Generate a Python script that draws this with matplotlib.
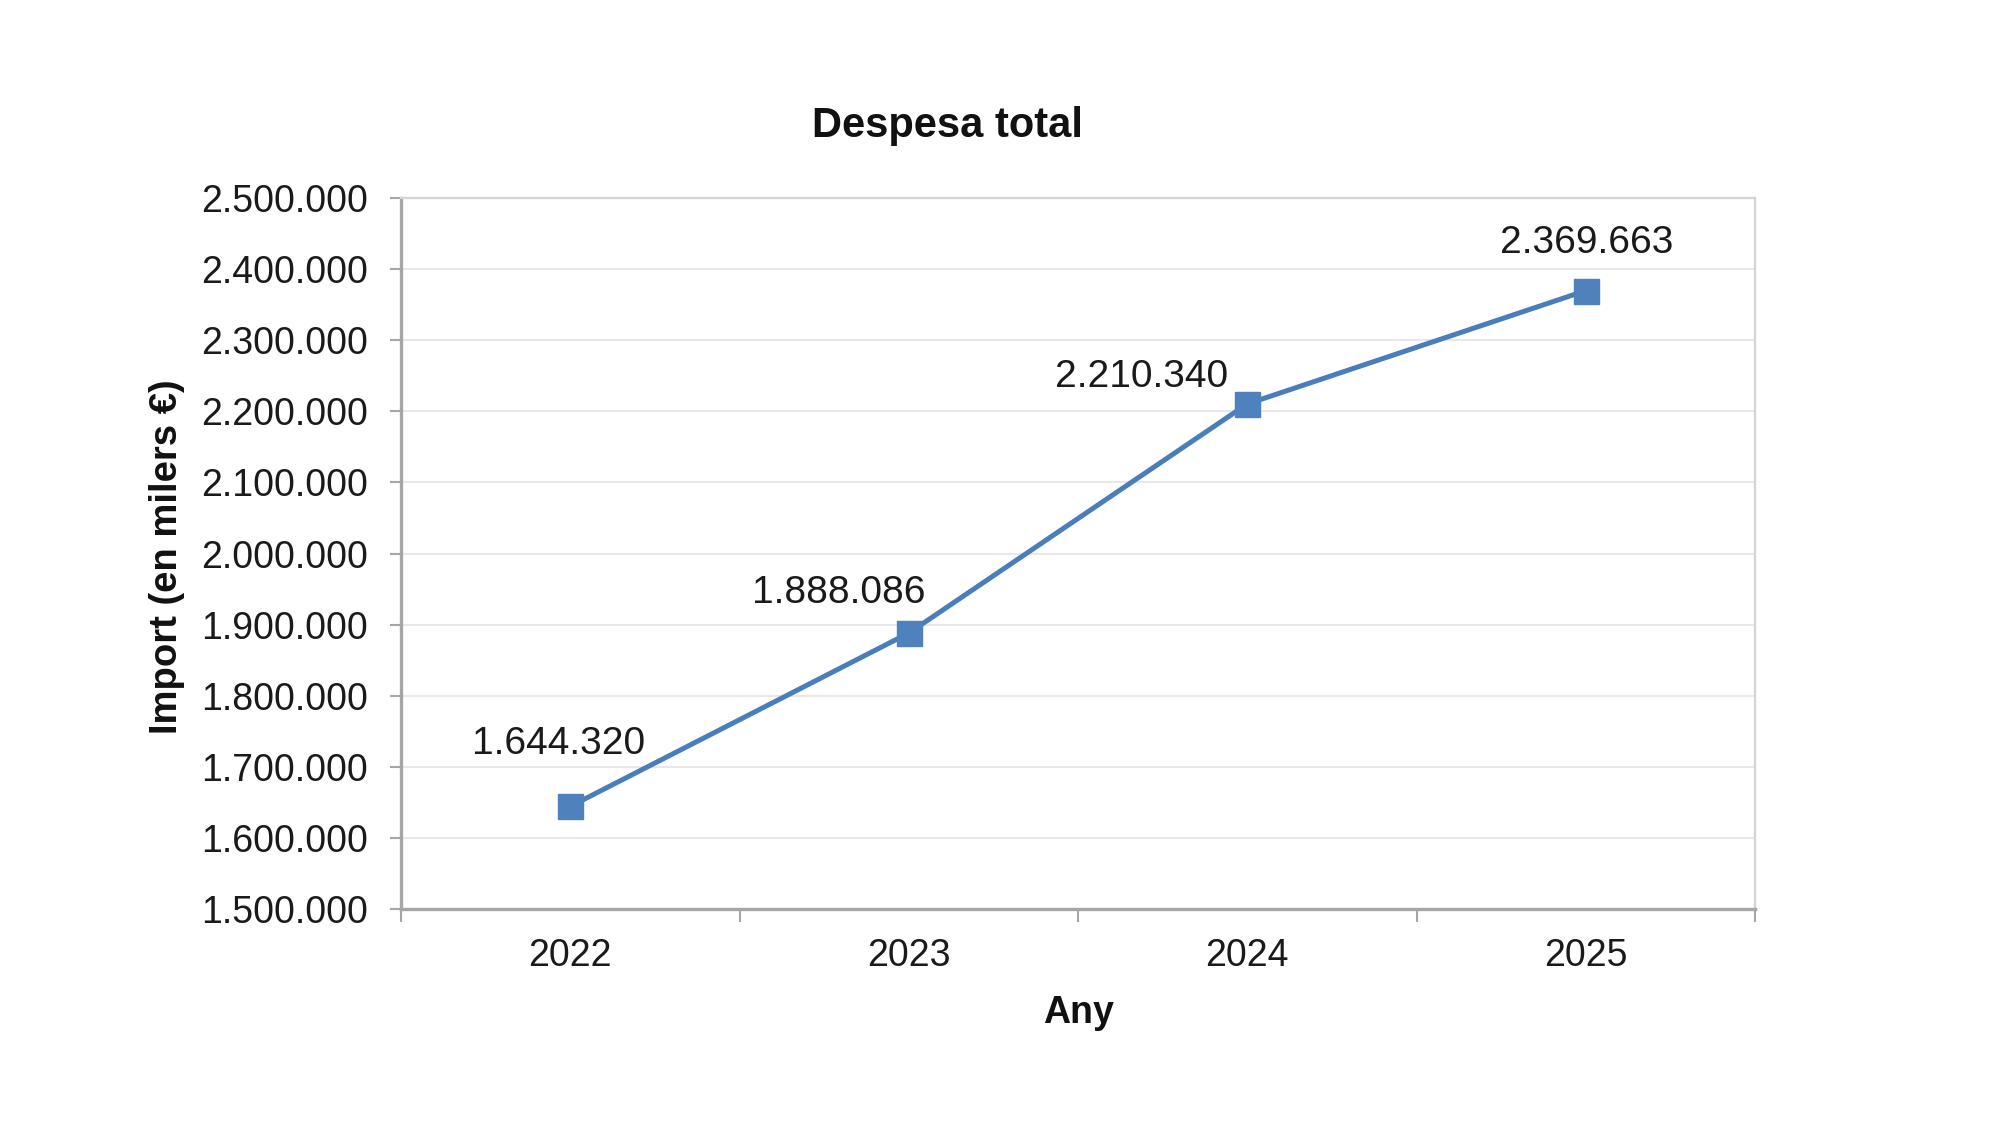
import matplotlib
matplotlib.use("Agg")
import matplotlib.pyplot as plt
from matplotlib.ticker import FuncFormatter, MultipleLocator, FixedLocator

plt.rcParams['font.family'] = ['Liberation Sans', 'DejaVu Sans']

years = ["2022", "2023", "2024", "2025"]
values = [1644320, 1888086, 2210340, 2369663]
title = "Despesa total"
xlabel = "Any"
ylabel = "Import (en milers €)"

# label offsets in pixels (dx, dy) relative to marker
label_offsets = [(-12, 66), (-70, 44), (-106, 31), (1, 52)]

def fmt(v):
    return f"{v:,.0f}".replace(",", ".")

W, H = 2000, 1126
fig = plt.figure(figsize=(W / 100, H / 100), dpi=100)
ax = fig.add_axes([401 / W, 1 - 909 / H, (1755 - 401) / W, (909 - 198) / H])

line_color = "#4A7EBB"
marker_color = "#4F81BD"
x = list(range(len(years)))
ax.plot(x, values, color=line_color, linewidth=3.6, marker="s", markersize=18,
        markerfacecolor=marker_color, markeredgecolor=marker_color, zorder=3, clip_on=False)

ax.set_xlim(-0.5, len(years) - 0.5)
ax.set_ylim(1500000, 2500000)
ax.yaxis.set_major_locator(MultipleLocator(100000))
ax.yaxis.set_major_formatter(FuncFormatter(lambda v, p: fmt(v)))
ax.set_xticks(x)
ax.set_xticklabels(years)
ax.xaxis.set_minor_locator(FixedLocator([i - 0.5 for i in range(len(years) + 1)]))

ax.grid(axis="y", color="#E8E8E8", linewidth=1.5, zorder=0)
ax.set_axisbelow(True)

for s in ["left", "bottom"]:
    ax.spines[s].set_color("#A6A6A6")
    ax.spines[s].set_linewidth(2.4)
for s in ["top", "right"]:
    ax.spines[s].set_color("#D4D4D4")
    ax.spines[s].set_linewidth(1.6)
    ax.spines[s].set_linestyle((0, (2, 0.6)))

ax.tick_params(axis="y", which="major", direction="out", length=8, width=1.5,
               color="#A6A6A6", pad=16, labelsize=27, labelcolor="#1a1a1a")
ax.tick_params(axis="x", which="major", length=0, pad=21, labelsize=27, labelcolor="#1a1a1a")
ax.tick_params(axis="x", which="minor", direction="out", length=9, width=1.5, color="#A6A6A6")

for xi, v, (dx, dy) in zip(x, values, label_offsets):
    ax.annotate(fmt(v), xy=(xi, v), xytext=(dx * 0.72, dy * 0.72), textcoords="offset points",
                ha="center", va="center_baseline", fontsize=28, color="#1a1a1a")

fig.text(947 / W, 1 - 137 / H, title, ha="center", va="baseline", fontsize=30,
         fontweight="bold", color="#111111")
fig.text(1078 / W, 1 - 1023 / H, xlabel, ha="center", va="baseline", fontsize=27,
         fontweight="bold", color="#111111")
fig.text(167 / W, 1 - 557 / H, ylabel, ha="center", va="center", rotation=90, fontsize=27.5,
         fontweight="bold", color="#111111")

fig.savefig("out.png", dpi=100, facecolor="white")
